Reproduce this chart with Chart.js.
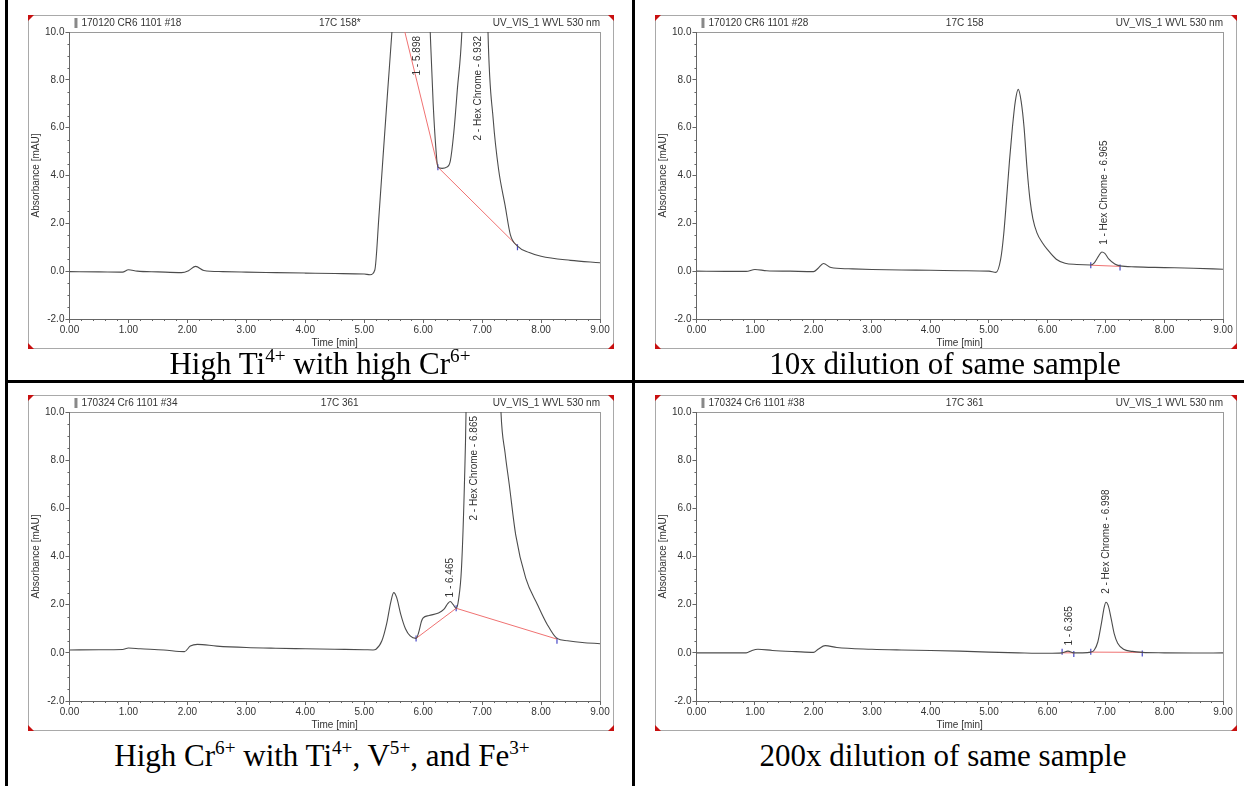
<!DOCTYPE html>
<html>
<head>
<meta charset="utf-8">
<script src="https://cdn.jsdelivr.net/npm/chart.js@4.4.1/dist/chart.umd.min.js"></script>
<style>
  body { margin: 0; background: #fff; }
  #page { position: relative; width: 1244px; height: 786px; overflow: hidden; background: #fff; }
  .rule { position: absolute; background: #000; }
  canvas { position: absolute; }
  .cap { position: absolute; font-family: "Liberation Serif", "Times New Roman", serif; font-size: 31px; line-height: 31px; color: #000; text-align: center; white-space: nowrap; }
  .cap sup { font-size: 62%; line-height: 0; vertical-align: 0.62em; }
</style>
</head>
<body>
<div id="page">
  <div class="rule" style="left:5px;top:0;width:3px;height:786px"></div>
  <div class="rule" style="left:632px;top:0;width:3px;height:786px"></div>
  <div class="rule" style="left:5px;top:380px;width:1239px;height:3px"></div>

  <canvas id="cA" width="586" height="334" style="left:28px;top:15px"></canvas>
  <canvas id="cB" width="582" height="334" style="left:655px;top:15px"></canvas>
  <canvas id="cC" width="586" height="336" style="left:28px;top:395px"></canvas>
  <canvas id="cD" width="582" height="336" style="left:655px;top:395px"></canvas>

  <div class="cap" style="left:20px;width:600px;top:348px">High Ti<sup>4+</sup> with high Cr<sup>6+</sup></div>
  <div class="cap" style="left:645px;width:600px;top:348px">10x dilution of same sample</div>
  <div class="cap" style="left:20px;width:604px;top:740px">High Cr<sup>6+</sup> with Ti<sup>4+</sup>, V<sup>5+</sup>, and Fe<sup>3+</sup></div>
  <div class="cap" style="left:643px;width:600px;top:740px">200x dilution of same sample</div>
</div>

<script>
// axis ticks (shared by all four runs)
const timeTicks = [0, 1, 2, 3, 4, 5, 6, 7, 8, 9];
const absTicks = [-2, 0, 2, 4, 6, 8, 10];

// run 1: high Ti with high Cr (#18)
const headerA = ['170120 CR6 1101 #18', '17C 158*', 'UV_VIS_1 WVL 530 nm'];
const timeA = [0, 0.5, 0.9, 1.0, 1.15, 1.5, 1.9, 2.02, 2.14, 2.28, 2.6, 3.0, 3.5, 4.0, 4.5, 5.0, 5.1, 5.18, 5.25, 5.32, 5.4, 5.47, 5.6, 5.9, 6.0, 6.12, 6.17, 6.22, 6.25, 6.32, 6.4, 6.46, 6.52, 6.58, 6.66, 6.75, 6.93, 7.03, 7.1, 7.19, 7.28, 7.39, 7.48, 7.6, 7.8, 8.0, 8.5, 9.0];
const absA = [-0.02, -0.03, -0.04, 0.06, 0.0, -0.03, -0.06, 0.02, 0.2, 0.03, -0.02, -0.04, -0.06, -0.08, -0.1, -0.12, -0.15, 0.05, 2.3, 4.8, 7.6, 10, 15, 30, 18, 10, 7.0, 5.0, 4.35, 4.3, 4.35, 4.6, 5.8, 7.6, 10.2, 18, 60, 20, 10, 6.3, 4.25, 2.75, 1.52, 1.05, 0.78, 0.62, 0.45, 0.35];
const baseTimeA = [5.64, 6.25, 7.6];
const baseAbsA = [10.5, 4.35, 1.05];
const markTimeA = [6.25, 7.6];
const markAbsA = [4.35, 1.0];
const peakTimeA = [5.898, 6.932];
const peakAbsA = [99, 99];
const peakTextA = ['1 - 5.898', '2 - Hex Chrome - 6.932'];

// run 2: 10x dilution (#28)
const headerB = ['170120 CR6 1101 #28', '17C 158', 'UV_VIS_1 WVL 530 nm'];
const timeB = [0, 0.5, 0.85, 1.0, 1.2, 1.6, 2.0, 2.08, 2.17, 2.3, 2.6, 3.0, 3.5, 4.0, 4.5, 5.0, 5.12, 5.2, 5.25, 5.3, 5.35, 5.4, 5.45, 5.5, 5.55, 5.6, 5.65, 5.7, 5.75, 5.82, 5.91, 6.0, 6.15, 6.3, 6.5, 6.74, 6.8, 6.87, 6.93, 6.98, 7.05, 7.15, 7.24, 7.5, 8.0, 8.5, 9.0];
const absB = [0.0, -0.01, -0.01, 0.07, 0.02, 0.0, -0.02, 0.12, 0.32, 0.15, 0.1, 0.07, 0.05, 0.04, 0.02, 0.0, -0.05, 0.5, 1.5, 3.0, 4.6, 6.0, 7.1, 7.6, 7.1, 6.0, 4.3, 3.0, 2.2, 1.6, 1.2, 0.9, 0.5, 0.33, 0.28, 0.26, 0.35, 0.62, 0.8, 0.74, 0.5, 0.3, 0.22, 0.18, 0.15, 0.12, 0.08];
const baseTimeB = [6.74, 7.24];
const baseAbsB = [0.25, 0.2];
const markTimeB = [6.74, 7.24];
const markAbsB = [0.25, 0.15];
const peakTimeB = [6.965];
const peakAbsB = [1.1];
const peakTextB = ['1 - Hex Chrome - 6.965'];

// run 3: high Cr with Ti, V, Fe (#34)
const headerC = ['170324 Cr6 1101 #34', '17C 361', 'UV_VIS_1 WVL 530 nm'];
const timeC = [0, 0.5, 0.9, 1.0, 1.2, 1.6, 1.95, 2.05, 2.17, 2.5, 3.0, 3.5, 4.0, 4.5, 5.0, 5.15, 5.2, 5.3, 5.38, 5.45, 5.5, 5.55, 5.62, 5.7, 5.78, 5.88, 5.93, 5.97, 6.0, 6.1, 6.26, 6.35, 6.42, 6.46, 6.51, 6.56, 6.6, 6.65, 6.7, 6.73, 6.8, 6.87, 7.2, 7.32, 7.39, 7.46, 7.57, 7.74, 7.94, 8.1, 8.27, 8.45, 8.7, 9.0];
const absC = [0.12, 0.13, 0.14, 0.2, 0.17, 0.12, 0.05, 0.28, 0.35, 0.28, 0.22, 0.19, 0.17, 0.15, 0.13, 0.12, 0.15, 0.5, 1.2, 2.1, 2.5, 2.3, 1.6, 1.0, 0.7, 0.6, 0.9, 1.3, 1.45, 1.55, 1.65, 1.8, 2.05, 2.13, 2.0, 1.85, 2.2, 3.5, 7.0, 10.5, 30, 60, 20, 10, 8.3, 7.0, 4.9, 3.1, 2.0, 1.2, 0.6, 0.5, 0.43, 0.38];
const baseTimeC = [5.88, 6.56, 8.27];
const baseAbsC = [0.6, 1.85, 0.57];
const markTimeC = [5.88, 6.56, 8.27];
const markAbsC = [0.6, 1.85, 0.5];
const peakTimeC = [6.465, 6.865];
const peakAbsC = [2.3, 99];
const peakTextC = ['1 - 6.465', '2 - Hex Chrome - 6.865'];

// run 4: 200x dilution (#38)
const headerD = ['170324 Cr6 1101 #38', '17C 361', 'UV_VIS_1 WVL 530 nm'];
const timeD = [0, 0.85, 0.95, 1.05, 1.3, 1.7, 2.0, 2.08, 2.2, 2.4, 3.0, 3.5, 4.0, 4.5, 5.0, 5.5, 6.0, 6.25, 6.35, 6.45, 6.6, 6.74, 6.8, 6.86, 6.92, 6.97, 7.0, 7.04, 7.09, 7.14, 7.2, 7.3, 7.45, 7.62, 8.0, 8.5, 9.0];
const absD = [0.0, 0.0, 0.1, 0.15, 0.1, 0.05, 0.02, 0.15, 0.3, 0.22, 0.15, 0.12, 0.1, 0.07, 0.03, 0.0, -0.02, 0.0, 0.07, 0.0, 0.0, 0.03, 0.12, 0.45, 1.2, 1.9, 2.1, 1.95, 1.4, 0.8, 0.4, 0.15, 0.06, 0.02, 0.0, -0.01, 0.0];
const baseTimeD = [6.25, 6.45, null, 6.74, 7.62];
const baseAbsD = [0.0, 0.0, null, 0.03, 0.02];
const markTimeD = [6.25, 6.45, 6.74, 7.62];
const markAbsD = [0.05, -0.05, 0.05, -0.03];
const peakTimeD = [6.365, 6.998];
const peakAbsD = [0.3, 2.45];
const peakTextD = ['1 - 6.365', '2 - Hex Chrome - 6.998'];

const FONT = "'Liberation Sans', Arial, sans-serif";
const INK = '#333';

function pts(ts, vs) {
  return ts.map((t, i) => ({ x: t, y: vs[i] }));
}

// frame, header line, minor ticks and peak labels, Chromeleon style
function framePlugin(p) {
  return {
    id: 'chromFrame',
    beforeDraw(chart) {
      const { ctx, width, height, chartArea: a } = chart;
      ctx.save();
      ctx.fillStyle = '#fff';
      ctx.fillRect(0, 0, width, height);
      ctx.strokeStyle = '#a9a9a9';
      ctx.lineWidth = 1;
      ctx.strokeRect(0.5, 0.5, width - 1, height - 1);
      ctx.strokeStyle = '#9a9a9a';
      ctx.strokeRect(Math.round(a.left) + 0.5, Math.round(a.top) + 0.5, Math.round(a.width), Math.round(a.height));
      // red corner marks
      ctx.fillStyle = '#c81010';
      const s = 6;
      [[0, 0, 1, 1], [width, 0, -1, 1], [0, height, 1, -1], [width, height, -1, -1]].forEach(([cx, cy, dx, dy]) => {
        ctx.beginPath();
        ctx.moveTo(cx, cy);
        ctx.lineTo(cx + s * dx, cy);
        ctx.lineTo(cx, cy + s * dy);
        ctx.closePath();
        ctx.fill();
      });
      // header
      const hy = a.top / 2 - 0.5;
      ctx.fillStyle = '#888';
      ctx.fillRect(a.left + 5, hy - 5, 3, 10);
      ctx.fillStyle = INK;
      ctx.font = '10px ' + FONT;
      ctx.textBaseline = 'middle';
      ctx.textAlign = 'left';
      ctx.fillText(p.header[0], a.left + 12, hy);
      ctx.textAlign = 'center';
      ctx.fillText(p.header[1], (a.left + a.right) / 2 + 5, hy);
      ctx.textAlign = 'right';
      ctx.fillText(p.header[2], a.right, hy);
      ctx.restore();
    },
    afterDraw(chart) {
      const { ctx, chartArea: a, scales: { x, y } } = chart;
      ctx.save();
      ctx.strokeStyle = '#666';
      ctx.lineWidth = 1;
      ctx.beginPath();
      for (let t = x.min; t <= x.max + 1e-9; t += 0.2) {
        if (Math.abs(t - Math.round(t)) < 1e-6) continue;
        const px = Math.round(x.getPixelForValue(t)) + 0.5;
        ctx.moveTo(px, a.bottom);
        ctx.lineTo(px, a.bottom + 2);
      }
      for (let v = y.min; v <= y.max + 1e-9; v += 0.5) {
        if (Math.abs(v / 2 - Math.round(v / 2)) < 1e-6) continue;
        const py = Math.round(y.getPixelForValue(v)) + 0.5;
        ctx.moveTo(a.left - 2, py);
        ctx.lineTo(a.left, py);
      }
      ctx.stroke();
      // peak labels, vertical, reading upward from above the peak
      ctx.font = '10px ' + FONT;
      ctx.fillStyle = INK;
      ctx.textBaseline = 'middle';
      ctx.textAlign = 'left';
      p.peakT.forEach((t, i) => {
        const txt = p.peakText[i];
        const w = ctx.measureText(txt).width;
        let yb = y.getPixelForValue(p.peakV[i]);
        if (yb - w < a.top + 4) yb = a.top + 4 + w;
        ctx.save();
        ctx.translate(x.getPixelForValue(t), yb);
        ctx.rotate(-Math.PI / 2);
        ctx.fillText(txt, 0, 0);
        ctx.restore();
      });
      ctx.restore();
    }
  };
}

function makeChart(p) {
  const font = { family: FONT, size: 10 };
  return new Chart(document.getElementById(p.id), {
    type: 'line',
    data: {
      datasets: [
        { data: pts(p.time, p.abs), borderColor: '#4c4c4c', borderWidth: 1.1, pointRadius: 0, cubicInterpolationMode: 'monotone', clip: 0 },
        { data: pts(p.baseT, p.baseV), borderColor: '#f07272', borderWidth: 1, pointRadius: 0, spanGaps: false, clip: 0 },
        { data: pts(p.markT, p.markV), showLine: false, pointStyle: 'line', rotation: 90, pointRadius: 3, pointBorderColor: '#4848c8', pointBorderWidth: 1.2, clip: 0 }
      ]
    },
    options: {
      responsive: false,
      animation: false,
      events: [],
      layout: { padding: { top: 17, right: 14, bottom: 0, left: 2 } },
      plugins: { legend: { display: false }, tooltip: { enabled: false } },
      scales: {
        x: {
          type: 'linear', min: timeTicks[0], max: timeTicks[timeTicks.length - 1],
          afterBuildTicks: s => { s.ticks = timeTicks.map(v => ({ value: v })); },
          ticks: { font, color: INK, padding: 1, maxRotation: 0, autoSkip: false, callback: v => v.toFixed(2) },
          grid: { drawOnChartArea: false, tickLength: 4, color: '#666' },
          border: { color: '#666' },
          title: { display: true, text: 'Time [min]', font, color: INK, padding: { top: 0, bottom: 0 } }
        },
        y: {
          min: absTicks[0], max: absTicks[absTicks.length - 1],
          afterBuildTicks: s => { s.ticks = absTicks.map(v => ({ value: v })); },
          ticks: { font, color: INK, padding: 1, callback: v => v.toFixed(1) },
          grid: { drawOnChartArea: false, tickLength: 4, color: '#666' },
          border: { color: '#666' },
          title: { display: true, text: 'Absorbance [mAU]', font, color: INK, padding: { top: 0, bottom: 2 } }
        }
      }
    },
    plugins: [framePlugin(p)]
  });
}

makeChart({ id: 'cA', header: headerA, time: timeA, abs: absA, baseT: baseTimeA, baseV: baseAbsA, markT: markTimeA, markV: markAbsA, peakT: peakTimeA, peakV: peakAbsA, peakText: peakTextA });
makeChart({ id: 'cB', header: headerB, time: timeB, abs: absB, baseT: baseTimeB, baseV: baseAbsB, markT: markTimeB, markV: markAbsB, peakT: peakTimeB, peakV: peakAbsB, peakText: peakTextB });
makeChart({ id: 'cC', header: headerC, time: timeC, abs: absC, baseT: baseTimeC, baseV: baseAbsC, markT: markTimeC, markV: markAbsC, peakT: peakTimeC, peakV: peakAbsC, peakText: peakTextC });
makeChart({ id: 'cD', header: headerD, time: timeD, abs: absD, baseT: baseTimeD, baseV: baseAbsD, markT: markTimeD, markV: markAbsD, peakT: peakTimeD, peakV: peakAbsD, peakText: peakTextD });
</script>
</body>
</html>
